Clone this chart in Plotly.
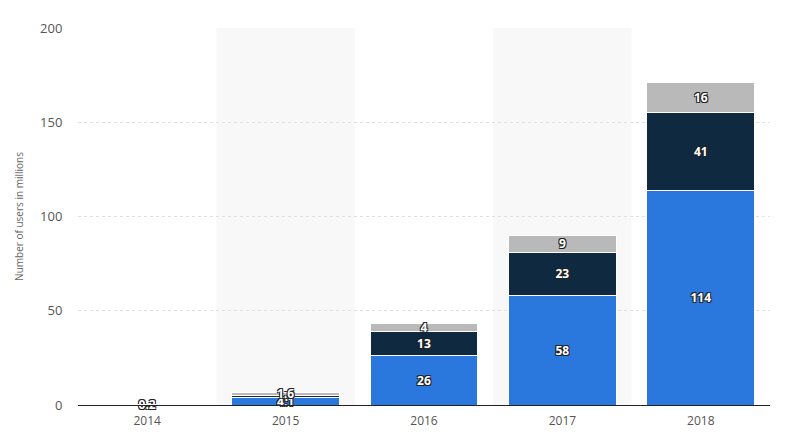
import plotly.graph_objects as go

years = ["2014", "2015", "2016", "2017", "2018"]
blue_vals = [0.2, 4.1, 26, 58, 114]
navy_vals = [0, 1, 13, 23, 41]
gray_vals = [0, 1.6, 4, 9, 16]
blue_text = ["0.2", "4.1", "26", "58", "114"]
navy_text = ["", "1", "13", "23", "41"]
gray_text = ["", "1.6", "4", "9", "16"]

shadow = "-1px -1px 0 #222, 1px -1px 0 #222, -1px 1px 0 #222, 1px 1px 0 #222"
fig = go.Figure()
for vals, txt, col in [(blue_vals, blue_text, "#2a78de"),
                       (navy_vals, navy_text, "#0f2940"),
                       (gray_vals, gray_text, "#b9b9b9")]:
    fig.add_trace(go.Bar(
        x=years, y=vals, text=txt, marker_color=col,
        marker_line=dict(color="white", width=1),
        textposition="inside", insidetextanchor="middle", constraintext="none",
        textangle=0,
        textfont=dict(family="Open Sans, sans-serif", size=12, color="white",
                      weight="bold", shadow=shadow),
        hoverinfo="skip", cliponaxis=False,
    ))

shapes = []
for i in (1, 3):
    shapes.append(dict(type="rect", xref="x", yref="paper", x0=i - 0.5, x1=i + 0.5,
                       y0=0, y1=1, fillcolor="#f8f8f8", line_width=0, layer="below"))

fig.update_layout(
    barmode="stack", bargap=0.22, showlegend=False,
    width=792, height=437, paper_bgcolor="white", plot_bgcolor="white",
    margin=dict(l=70, r=30, t=20, b=40, autoexpand=False),
    shapes=shapes,
    font=dict(family="Open Sans, sans-serif", color="#555"),
    xaxis=dict(showline=True, linecolor="#222", linewidth=1, tickfont=dict(size=12, color="#555"),
               ticks="outside", ticklen=5, tickcolor="rgba(0,0,0,0)", showgrid=False,
               automargin=False),
    yaxis=dict(range=[0, 200], dtick=50, showgrid=True, gridcolor="#e0e0e0", griddash="dot",
               zeroline=False, tickfont=dict(size=13, color="#555"), automargin=False,
               ticks="outside", ticklen=12, tickcolor="rgba(0,0,0,0)",
               title=dict(text="Number of users in millions", font=dict(size=10, color="#666"), standoff=14)),
)
fig.write_html("out.html")
